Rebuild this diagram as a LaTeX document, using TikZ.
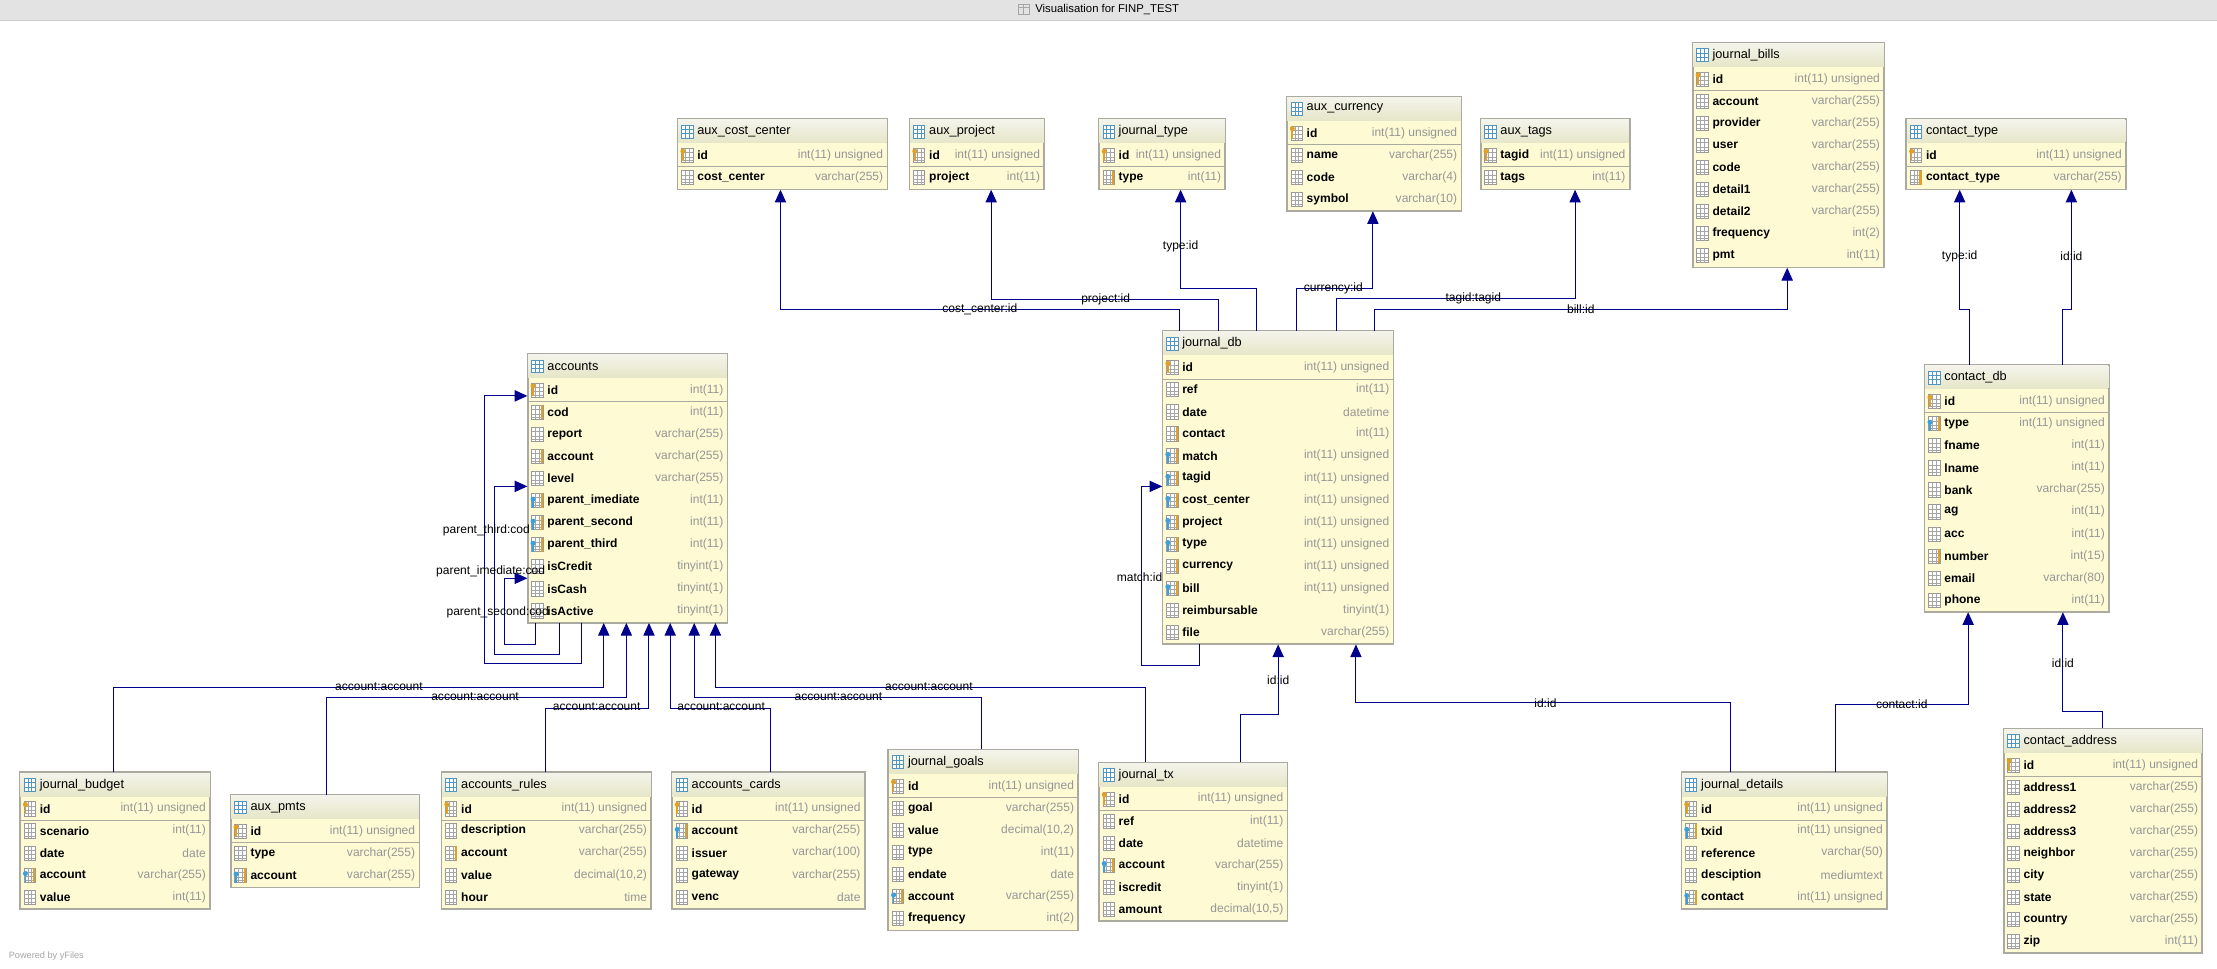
\documentclass[tikz,border=0pt]{standalone}
\usepackage{fontspec}
\setmainfont{Liberation Sans}
\usetikzlibrary{arrows.meta,calc}
\definecolor{fkc}{RGB}{0,0,140}
\definecolor{bodyc}{RGB}{253,250,212}
\definecolor{hdtop}{RGB}{244,244,236}
\definecolor{hdbot}{RGB}{230,230,200}
\definecolor{bordc}{RGB}{170,170,160}
\definecolor{typec}{RGB}{150,150,150}
\definecolor{keyo}{RGB}{225,160,40}
\definecolor{keyb}{RGB}{60,160,220}
\tikzset{
 tbl/.style={draw=bordc,fill=bodyc,line width=0.8pt,inner sep=0pt},
 fk/.style={draw=fkc,line width=0.7pt,-{Triangle[length=9pt,width=8pt]}},
 lbl/.style={font=\fontsize{8.5}{9}\selectfont,inner sep=1pt},
 cname/.style={font=\fontsize{8.5}{9}\selectfont\bfseries,anchor=west,inner sep=0pt},
 ctype/.style={font=\fontsize{8.5}{9}\selectfont,text=typec,anchor=east,inner sep=0pt},
 ttl/.style={font=\fontsize{9}{10}\selectfont,anchor=west,inner sep=0pt},
}
% #1 name #2 x1 #3 x2 #4 y0 #5 title #6 n #7 rows
\newcommand\dbt[7]{%
 \pgfmathsetmacro\tw{#3-#2}%
 \pgfmathsetmacro\th{18.2+#6*15.6}%
 \node[tbl,minimum width=\tw pt,minimum height=\th pt,anchor=north west] (#1) at (#2,#4) {};
 \fill[top color=hdtop,bottom color=hdbot] ($(#1.north west)+(0.4,0.4)$) rectangle ($(#1.north east)+(-0.4,17)$);
 \draw[bordc,line width=0.8pt] (#1.north west) rectangle (#1.south east);
 \draw[bordc,line width=0.6pt] ($(#1.north west)+(0,34)$) -- ($(#1.north east)+(0,34)$);
 \draw[keyb!70!gray,fill=white,line width=0.4pt] ($(#1.north west)+(3,4.5)$) rectangle ++(8,9);
 \draw[keyb!70!gray,line width=0.3pt] ($(#1.north west)+(3,7.5)$) -- ++(8,0) ($(#1.north west)+(3,10.5)$) -- ++(8,0) ($(#1.north west)+(5.7,4.5)$) -- ++(0,9) ($(#1.north west)+(8.3,4.5)$) -- ++(0,9);
 \node[ttl] (#1-title) at ($(#1.north west)+(14,9)$) {#5};
 \foreach \a/\b/\c [count=\i from 0] in {#7}{%
  \pgfmathsetmacro\yy{26+\i*15.6}%
  \draw[gray!80,fill=white,line width=0.4pt] ($(#1.north west)+(3,\yy-5)$) rectangle ++(8,10);
  \draw[gray!70,line width=0.3pt] ($(#1.north west)+(3,\yy-2)$) -- ++(8,0) ($(#1.north west)+(3,\yy+1)$) -- ++(8,0) ($(#1.north west)+(3,\yy+3.5)$) -- ++(8,0) ($(#1.north west)+(5.7,\yy-5)$) -- ++(0,10) ($(#1.north west)+(8.3,\yy-5)$) -- ++(0,10);
  \if\c p\fill[keyo] ($(#1.north west)+(4,\yy-3)$) circle (1.8pt);\fill[keyo] ($(#1.north west)+(3.4,\yy-2)$) rectangle ++(1.2,6);\fi
  \if\c f\fill[keyb] ($(#1.north west)+(4,\yy-1)$) circle (1.8pt);\fill[keyb] ($(#1.north west)+(3.4,\yy)$) rectangle ++(1.2,5);\fill[keyo] ($(#1.north west)+(9.5,\yy-5)$) rectangle ++(1.5,10);\fi
  \if\c i\fill[keyo] ($(#1.north west)+(9.5,\yy-5)$) rectangle ++(1.5,10);\fi
  \node[cname] (#1-n\i) at ($(#1.north west)+(14,\yy)$) {\a};
  \node[ctype] (#1-t\i) at ($(#1.north east)+(-3,\yy)$) {\b};
 }%
}
\begin{document}
\begin{tikzpicture}[x=1pt,y=-1pt]
\useasboundingbox (0,0) rectangle (1568,685);
\fill[white] (0,0) rectangle (1568,685);
\fill[gray!22] (0,0) rectangle (1568,14);
\draw[gray!40] (0,14) -- (1568,14);
\node[font=\fontsize{8}{9}\selectfont,inner sep=0pt,anchor=west] (title) at (732,6.5) {Visualisation for FINP\_TEST};
\draw[gray!70,line width=0.5pt] (720,3) rectangle (728,10);
\draw[gray!70,line width=0.4pt] (720,5.5) -- (728,5.5) (724,3) -- (724,10);
\node[font=\fontsize{6.5}{7}\selectfont,text=gray!70,anchor=west,inner sep=0pt] (powered) at (6,676) {Powered by yFiles};

\dbt{acc}{373}{514}{250}{accounts}{11}{id/int(11)/p,cod/int(11)/i,report/varchar(255)/c,account/varchar(255)/i,level/varchar(255)/c,parent\_imediate/int(11)/f,parent\_second/int(11)/f,parent\_third/int(11)/f,isCredit/tinyint(1)/c,isCash/tinyint(1)/c,isActive/tinyint(1)/c}
\dbt{acc_cc}{479}{627}{84}{aux\_cost\_center}{2}{id/int(11) unsigned/p,cost\_center/varchar(255)/c}
\dbt{aproj}{643}{738}{84}{aux\_project}{2}{id/int(11) unsigned/p,project/int(11)/c}
\dbt{jtype}{777}{866}{84}{journal\_type}{2}{id/int(11) unsigned/p,type/int(11)/i}
\dbt{acur}{910}{1033}{68}{aux\_currency}{4}{id/int(11) unsigned/p,name/varchar(255)/c,code/varchar(4)/c,symbol/varchar(10)/c}
\dbt{atags}{1047}{1152}{84}{aux\_tags}{2}{tagid/int(11) unsigned/p,tags/int(11)/c}
\dbt{jbills}{1197}{1332}{30}{journal\_bills}{9}{id/int(11) unsigned/p,account/varchar(255)/c,provider/varchar(255)/c,user/varchar(255)/c,code/varchar(255)/c,detail1/varchar(255)/c,detail2/varchar(255)/c,frequency/int(2)/c,pmt/int(11)/c}
\dbt{ctype}{1348}{1503}{84}{contact\_type}{2}{id/int(11) unsigned/p,contact\_type/varchar(255)/i}
\dbt{jdb}{822}{985}{234}{journal\_db}{13}{id/int(11) unsigned/p,ref/int(11)/c,date/datetime/c,contact/int(11)/i,match/int(11) unsigned/f,tagid/int(11) unsigned/f,cost\_center/int(11) unsigned/f,project/int(11) unsigned/f,type/int(11) unsigned/f,currency/int(11) unsigned/i,bill/int(11) unsigned/f,reimbursable/tinyint(1)/c,file/varchar(255)/c}
\dbt{cdb}{1361}{1491}{258}{contact\_db}{10}{id/int(11) unsigned/p,type/int(11) unsigned/f,fname/int(11)/c,lname/int(11)/c,bank/varchar(255)/c,ag/int(11)/c,acc/int(11)/c,number/int(15)/i,email/varchar(80)/c,phone/int(11)/c}
\dbt{jbud}{14}{148}{546}{journal\_budget}{5}{id/int(11) unsigned/p,scenario/int(11)/c,date/date/c,account/varchar(255)/f,value/int(11)/c}
\dbt{apmts}{163}{296}{562}{aux\_pmts}{3}{id/int(11) unsigned/p,type/varchar(255)/c,account/varchar(255)/f}
\dbt{arules}{312}{460}{546}{accounts\_rules}{5}{id/int(11) unsigned/p,description/varchar(255)/c,account/varchar(255)/i,value/{decimal(10,2)}/c,hour/time/c}
\dbt{acards}{475}{611}{546}{accounts\_cards}{5}{id/int(11) unsigned/p,account/varchar(255)/f,issuer/varchar(100)/c,gateway/varchar(255)/c,venc/date/c}
\dbt{jgoals}{628}{762}{530}{journal\_goals}{7}{id/int(11) unsigned/p,goal/varchar(255)/c,value/{decimal(10,2)}/c,type/int(11)/c,endate/date/c,account/varchar(255)/f,frequency/int(2)/c}
\dbt{jtx}{777}{910}{539}{journal\_tx}{6}{id/int(11) unsigned/p,ref/int(11)/c,date/datetime/c,account/varchar(255)/f,iscredit/tinyint(1)/c,amount/{decimal(10,5)}/c}
\dbt{jdet}{1189}{1334}{546}{journal\_details}{5}{id/int(11) unsigned/p,txid/int(11) unsigned/f,reference/varchar(50)/c,desciption/mediumtext/c,contact/int(11) unsigned/f}
\dbt{caddr}{1417}{1557}{515}{contact\_address}{9}{id/int(11) unsigned/p,address1/varchar(255)/c,address2/varchar(255)/c,address3/varchar(255)/c,neighbor/varchar(255)/c,city/varchar(255)/c,state/varchar(255)/c,country/varchar(255)/c,zip/int(11)/c}

% connectors top
\draw[fk] ($(jdb.north west)+(12,0)$) -- ++(0,-15) -| ($(acc_cc.south west)+(73,0)$);
\draw[fk] ($(jdb.north west)+(40,0)$) -- ++(0,-22) -| ($(aproj.south west)+(58,0)$);
\draw[fk] ($(jdb.north west)+(67,0)$) -- ++(0,-30) -| ($(jtype.south west)+(58,0)$);
\draw[fk] ($(jdb.north west)+(95,0)$) -- ++(0,-30) -| ($(acur.south west)+(61,0)$);
\draw[fk] ($(jdb.north west)+(123,0)$) -- ++(0,-23) -| ($(atags.south west)+(67,0)$);
\draw[fk] ($(jdb.north west)+(150,0)$) -- ++(0,-15) -| ($(jbills.south west)+(67,0)$);
\draw[fk] ($(cdb.north west)+(32,0)$) -- ++(0,-39) -| ($(ctype.south west)+(38,0)$);
\draw[fk] ($(cdb.north west)+(98,0)$) -- ++(0,-39) -| ($(ctype.south west)+(117,0)$);
% accounts self loops
\draw[fk] ($(acc.south west)+(38,0)$) |- ($(acc.south west)+(-30,29)$) |- ($(acc.north west)+(0,30)$);
\draw[fk] ($(acc.south west)+(23,0)$) |- ($(acc.south west)+(-23,22)$) |- ($(acc.north west)+(0,94)$);
\draw[fk] ($(acc.south west)+(6,0)$) |- ($(acc.south west)+(-16,15)$) |- ($(acc.north west)+(0,159)$);
% account:account
\draw[fk] ($(jbud.north west)+(66,0)$) -- ++(0,-60) -| ($(acc.south west)+(54,0)$);
\draw[fk] ($(apmts.north west)+(68,0)$) -- ++(0,-69) -| ($(acc.south west)+(70,0)$);
\draw[fk] ($(arules.north west)+(74,0)$) -- ++(0,-45) -| ($(acc.south west)+(86,0)$);
\draw[fk] ($(acards.north west)+(70,0)$) -- ++(0,-45) -| ($(acc.south west)+(101,0)$);
\draw[fk] ($(jgoals.north west)+(66,0)$) -- ++(0,-37) -| ($(acc.south west)+(118,0)$);
\draw[fk] ($(jtx.north west)+(33,0)$) -- ++(0,-53) -| ($(acc.south west)+(133,0)$);
% journal_db
\draw[fk] ($(jdb.south west)+(26,0)$) |- ($(jdb.south west)+(-15,15)$) |- ($(jdb.north west)+(0,110)$);
\draw[fk] ($(jtx.north west)+(100,0)$) -- ++(0,-34) -| ($(jdb.south west)+(82,0)$);
\draw[fk] ($(jdet.north west)+(35,0)$) -- ++(0,-49) -| ($(jdb.south west)+(137,0)$);
\draw[fk] ($(jdet.north west)+(109,0)$) -- ++(0,-48) -| ($(cdb.south west)+(31,0)$);
\draw[fk] ($(caddr.north west)+(70,0)$) -- ++(0,-12) -| ($(cdb.south west)+(98,0)$);

% labels
\node[lbl] (l1) at (693,219) {cost\_center:id};
\node[lbl] (l2) at (782,212) {project:id};
\node[lbl] (l3) at (835,174) {type:id};
\node[lbl] (l4) at (943,204) {currency:id};
\node[lbl] (l5) at (1042,211) {tagid:tagid};
\node[lbl] (l6) at (1118,219) {bill:id};
\node[lbl] (l7) at (1386,181) {type:id};
\node[lbl] (l8) at (1465,181) {id:id};
\node[lbl] (l9) at (344,375) {parent\_third:cod};
\node[lbl] (l10) at (347,404) {parent\_imediate:cod};
\node[lbl] (l11) at (352,433) {parent\_second:cod};
\node[lbl] (l12) at (268,486) {account:account};
\node[lbl] (l13) at (336,493) {account:account};
\node[lbl] (l14) at (422,500) {account:account};
\node[lbl] (l15) at (510,500) {account:account};
\node[lbl] (l16) at (593,493) {account:account};
\node[lbl] (l17) at (657,486) {account:account};
\node[lbl] (l18) at (806,408) {match:id};
\node[lbl] (l19) at (904,481) {id:id};
\node[lbl] (l20) at (1093,497) {id:id};
\node[lbl] (l21) at (1345,498) {contact:id};
\node[lbl] (l22) at (1459,469) {id:id};
\end{tikzpicture}
\end{document}
